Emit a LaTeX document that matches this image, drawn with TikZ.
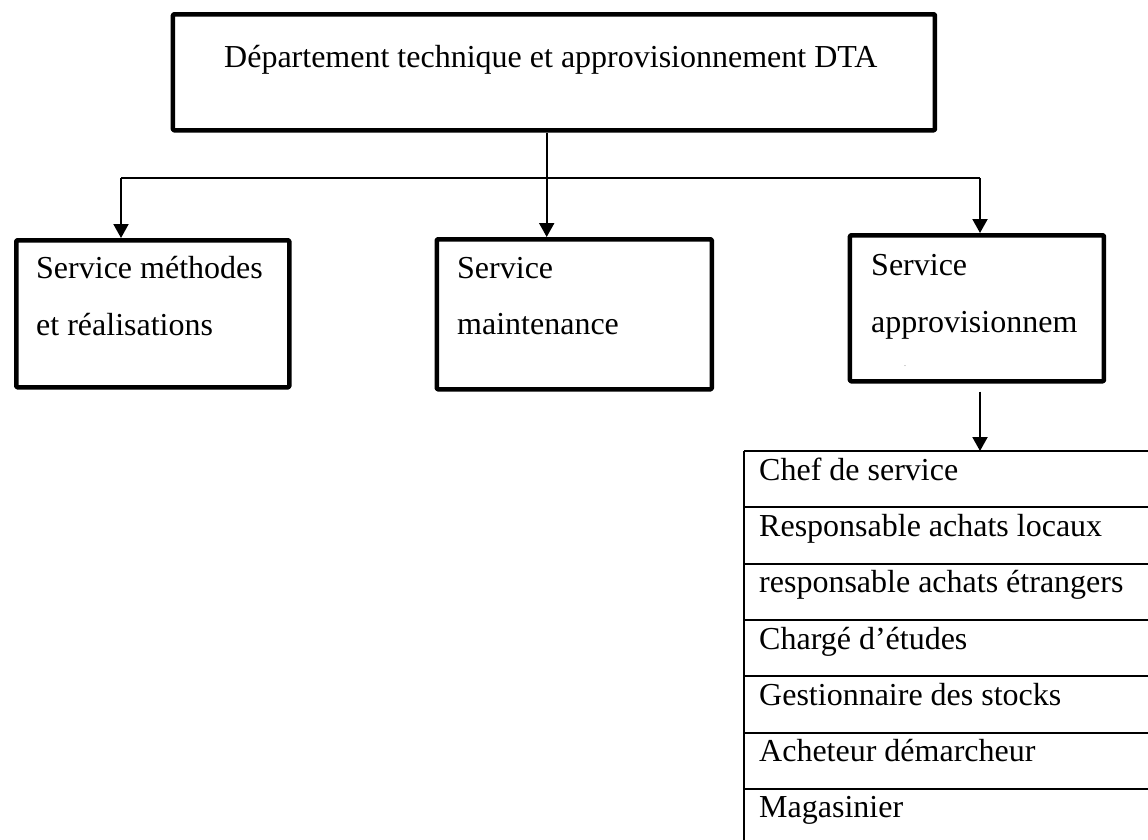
\documentclass[tikz,border=0pt]{standalone}
\usepackage{fontspec}
\setmainfont{Liberation Serif}
\usetikzlibrary{arrows.meta}
\tikzset{
  box/.style={draw, line width=4.5pt, line join=round, rounded corners=1pt, inner sep=0pt, anchor=north west},
  txt/.style={anchor=base west, inner sep=0pt, font=\fontsize{32}{36}\selectfont},
  conn/.style={line width=2pt},
  arr/.style={line width=2pt, -{Triangle[width=15pt,length=14pt]}},
  tline/.style={line width=2.2pt},
}
\begin{document}
\begin{tikzpicture}[x=1pt,y=-1pt]
\useasboundingbox (0,0) rectangle (1148,839);
\clip (0,0) rectangle (1148,839);
% top box
\node[box, minimum width=762pt, minimum height=116pt] (top) at (170.7,12) {};
\node[txt] (toptxt) at (224,67) {Département technique et approvisionnement DTA};
% service boxes
\node[box, minimum width=273pt, minimum height=147pt] (s1) at (14,238) {};
\node[txt] (s1a) at (36,278) {Service méthodes};
\node[txt] (s1b) at (36,335) {et réalisations};
\node[box, minimum width=275pt, minimum height=150pt] (s2) at (434.5,237) {};
\node[txt] (s2a) at (457,278) {Service};
\node[txt] (s2b) at (457,334) {maintenance};
\node[box, minimum width=254pt, minimum height=146pt] (s3) at (847.7,233) {};
\node[txt] (s3a) at (871,275) {Service};
\node[txt] (s3b) at (871,332) {approvisionnem};
\node[inner sep=0pt, font=\fontsize{6}{6}\selectfont] (dot) at (905,366) {.};
% connectors
\coordinate (j) at (546.7,178);
\coordinate (l) at (121,178);
\coordinate (r) at (980,178);
\draw[conn] (top.south -| j) -- (j);
\draw[conn] (l) -- (r);
\draw[arr] (l) -- (l |- s1.north);
\draw[arr] (j) -- (j |- s2.north);
\draw[arr] (r) -- (r |- s3.north);
% table
\foreach \i/\t in {1/Chef de service,2/Responsable achats locaux,3/responsable achats étrangers,4/Chargé d’études,5/Gestionnaire des stocks,6/Acheteur démarcheur,7/Magasinier}{
  \node[anchor=north west, inner sep=0pt, minimum width=420pt, minimum height=56.33pt] (row\i) at (744,{451+(\i-1)*56.33}) {};
  \node[txt] (rowtxt\i) at (759,{451+(\i-1)*56.33+29}) {\t};
  \draw[tline] (row\i.north west) -- (row\i.north east);
}
\coordinate (tbot) at (744,860);
\draw[tline] (row1.north west) -- (tbot);
\draw[arr] ([yshift=-8pt]s3.south -| r) -- (row1.north -| r);
\end{tikzpicture}
\end{document}
